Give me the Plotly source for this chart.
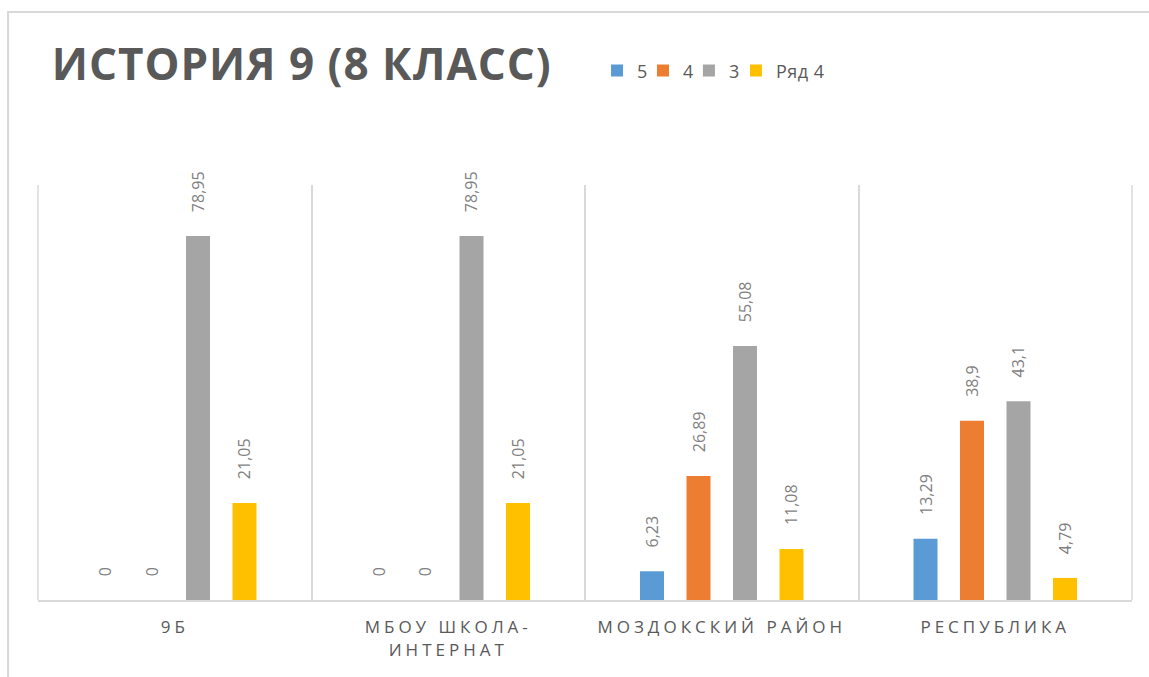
import plotly.graph_objects as go

# Categories and series values (percent of students per grade)
categories = ["9Б", "МБОУ ШКОЛА-<br>ИНТЕРНАТ", "МОЗДОКСКИЙ РАЙОН", "РЕСПУБЛИКА"]
series_names = ["5", "4", "3", "Ряд 4"]
grade_5 = [0, 0, 6.23, 13.29]
grade_4 = [0, 0, 26.89, 38.9]
grade_3 = [78.95, 78.95, 55.08, 43.1]
row_4 = [21.05, 21.05, 11.08, 4.79]
colors = ["#5b9bd5", "#ed7d31", "#a5a5a5", "#ffc000"]

FONT = "Open Sans"
TEXT_GRAY = "#595959"
GRID = "#d9d9d9"

# One small legend per series so the entries can sit close together
legend_ids = ["legend", "legend2", "legend3", "legend4"]
legend_x = [0.511, 0.553, 0.595, 0.638]


def fmt(v):
    # Comma as decimal separator, padded so the rotated label clears the bar
    return "\u00a0" * 5 + ("%g" % v).replace(".", ",")


def spaced(label, px):
    # Wrap each line of a label in a letter-spaced span
    return "<br>".join(
        "<span style='letter-spacing:%gpx'>%s</span>" % (px, part)
        for part in label.split("<br>")
    )


fig = go.Figure()
for name, vals, col, lid in zip(series_names, [grade_5, grade_4, grade_3, row_4],
                                colors, legend_ids):
    fig.add_trace(go.Bar(
        name=spaced(name, 0.5),
        legend=lid,
        showlegend=True,
        x=categories,
        y=vals,
        marker=dict(color=col, line=dict(width=0)),
        text=[fmt(v) for v in vals],
        textposition="outside",
        textangle=-90,
        constraintext="none",
        cliponaxis=False,
        textfont=dict(family=FONT, size=16, color="#7f7f7f"),
        hovertemplate="%{x}: %{y}<extra>" + name + "</extra>",
    ))

legend_common = dict(
    orientation="h",
    xanchor="left",
    y=1.275, yanchor="middle",
    font=dict(family=FONT, size=18, color=TEXT_GRAY),
    bgcolor="rgba(0,0,0,0)",
)

fig.update_layout(
    width=1149,
    height=677,
    margin=dict(l=38, r=17, t=185, b=77),
    paper_bgcolor="white",
    plot_bgcolor="white",
    showlegend=True,
    barmode="group",
    bargap=0.32,
    bargroupgap=0.484,
    title=dict(
        text="<b>" + spaced("ИСТОРИЯ 9 (8 КЛАСС)", 1) + "</b>",
        font=dict(family=FONT, size=44, color=TEXT_GRAY),
        x=0.045, xanchor="left",
        y=0.905, yanchor="middle",
    ),
    xaxis=dict(
        type="category",
        tickson="boundaries",
        showgrid=True,
        gridcolor=GRID,
        gridwidth=1.5,
        showline=True,
        linecolor=GRID,
        linewidth=2,
        ticks="",
        ticklabelstandoff=11,
        tickfont=dict(family=FONT, size=17, color=TEXT_GRAY),
        tickmode="array",
        tickvals=categories,
        ticktext=[spaced(c, 4) for c in categories],
        range=[-0.5, 3.5],
    ),
    yaxis=dict(
        range=[0, 90],
        showgrid=False,
        showticklabels=False,
        zeroline=False,
        ticks="",
    ),
    shapes=[
        # Outer chart frame
        dict(type="rect", xref="paper", yref="paper",
             x0=-0.0274, x1=1.05, y0=-0.3, y1=1.417,
             line=dict(color=GRID, width=2), layer="below"),
        # Left and right borders of the plot area
        dict(type="line", xref="paper", yref="paper",
             x0=1, x1=1, y0=0, y1=1,
             line=dict(color=GRID, width=1.5)),
        dict(type="line", xref="paper", yref="paper",
             x0=0, x1=0, y0=0, y1=1,
             line=dict(color=GRID, width=1.5)),
    ],
)

for lid, lx in zip(legend_ids, legend_x):
    fig.update_layout({lid: dict(legend_common, x=lx)})

fig.write_html("out.html")
